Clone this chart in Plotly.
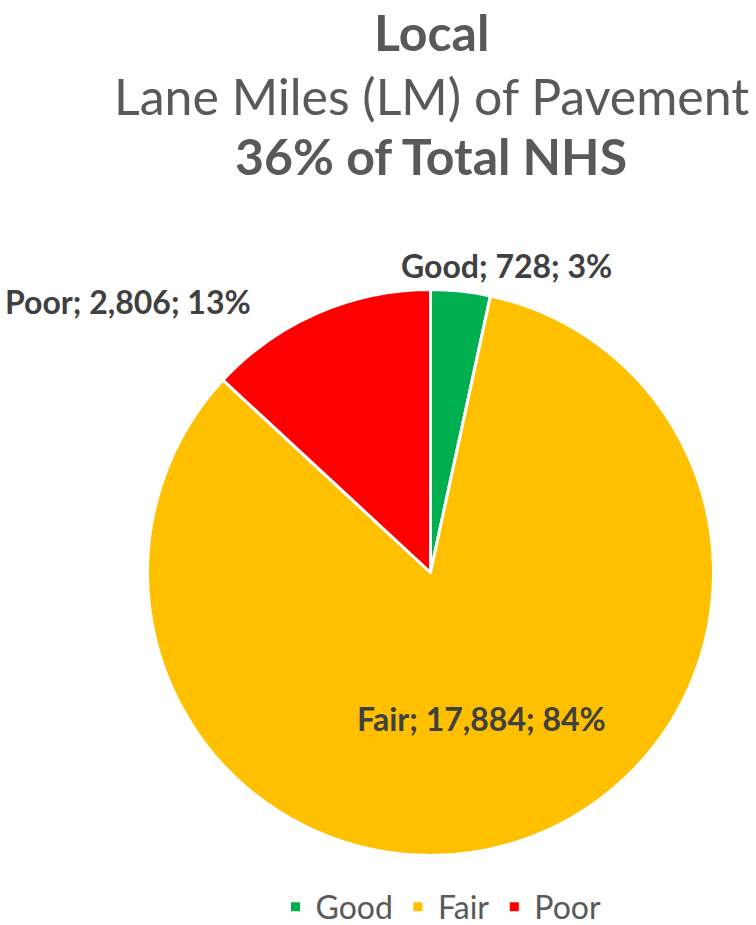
import plotly.graph_objects as go

# Pavement condition of local NHS lane miles
categories = ["Good", "Fair", "Poor"]
lane_miles = [728, 17884, 2806]
shares_pct = [3, 84, 13]
colors = ["#00B050", "#FFC000", "#FF0000"]

title_lines = ["<b>Local</b>", "Lane Miles (LM) of Pavement", "<b>36% of Total NHS</b>"]

W, H = 756, 925
FONT = "Lato, 'Open Sans', sans-serif"
GRAY = "#595959"
LABEL_GRAY = "#404040"

# pie geometry in pixels
cx, cy, r = 430.5, 572.5, 283

fig = go.Figure(
    go.Pie(
        labels=categories,
        values=lane_miles,
        sort=False,
        direction="clockwise",
        rotation=0,
        marker=dict(colors=colors, line=dict(color="white", width=3)),
        textinfo="none",
        hoverinfo="label+value+percent",
        domain=dict(
            x=[(cx - r) / W, (cx + r) / W],
            y=[(H - cy - r) / H, (H - cy + r) / H],
        ),
    )
)

label_pos = {"Good": (506, 266), "Fair": (481, 718), "Poor": (128, 301)}
annotations = []
for name, val, pct in zip(categories, lane_miles, shares_pct):
    px, py = label_pos[name]
    annotations.append(
        dict(
            x=px / W, y=1 - py / H, xref="paper", yref="paper",
            text=f"<b>{name}; {val:,}; {pct}%</b>",
            showarrow=False, xanchor="center", yanchor="middle",
            font=dict(family=FONT, size=32, color=LABEL_GRAY),
        )
    )

title_y = [30, 96, 156]
for line, ty in zip(title_lines, title_y):
    annotations.append(
        dict(
            x=431 / W, y=1 - ty / H, xref="paper", yref="paper",
            text=line, showarrow=False, xanchor="center", yanchor="middle",
            font=dict(family=FONT, size=50, color=GRAY),
        )
    )
# keep the first title line inside the page
annotations[3].update(y=1.0, yanchor="top")

fig.update_layout(
    width=W, height=H,
    margin=dict(l=0, r=0, t=0, b=0, autoexpand=False),
    paper_bgcolor="white", plot_bgcolor="white",
    showlegend=True,
    legend=dict(
        orientation="h", x=441 / W, xanchor="center",
        y=1 - 907 / H, yanchor="middle",
        font=dict(family=FONT, size=32, color=GRAY),
        itemwidth=30,
    ),
    annotations=annotations,
)

fig.write_html("out.html")
